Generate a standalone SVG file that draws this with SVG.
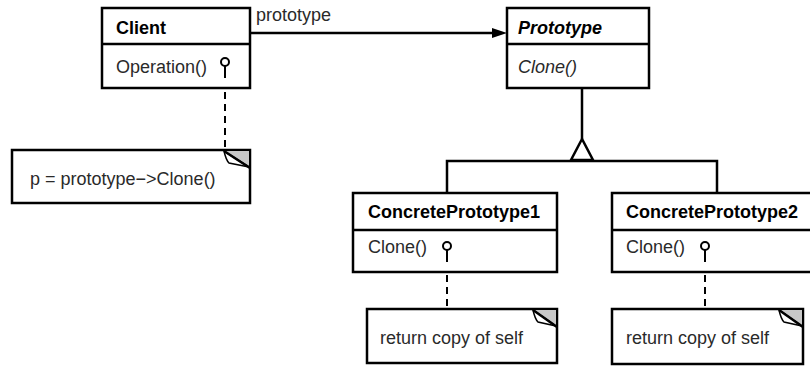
<svg xmlns="http://www.w3.org/2000/svg" width="810" height="369" viewBox="0 0 810 369">
<style>
.box{fill:#fff;stroke:#000;stroke-width:2.5}
.ln{stroke:#000;stroke-width:2.5;fill:none}
.thin{stroke:#000;stroke-width:2;fill:none}
.dash{stroke:#000;stroke-width:2;fill:none;stroke-dasharray:7,5}
.t{font-family:"Liberation Sans",Arial,sans-serif;font-size:18px;fill:#2a2a2a}
.b{font-family:"Liberation Sans",Arial,sans-serif;font-size:18px;font-weight:bold;fill:#000}
.i{font-style:italic}
.fold{fill:#c8c8c8;stroke:none}
.flap{fill:#fff;stroke:#000;stroke-width:1.5}
.pin{fill:#fff;stroke:#000;stroke-width:2}
</style>
<rect width="810" height="369" fill="#fff"/>
<g id="client">
  <rect class="box" x="102" y="8" width="148" height="80"/>
  <line class="ln" x1="102" y1="44" x2="250" y2="44"/>
  <text class="b" x="116" y="34">Client</text>
  <text class="t" x="116" y="73">Operation()</text>
</g>
<g id="prototype">
  <rect class="box" x="507" y="8" width="142" height="80"/>
  <line class="ln" x1="507" y1="44" x2="649" y2="44"/>
  <text class="b i" x="518" y="34">Prototype</text>
  <text class="t i" x="518" y="73">Clone()</text>
</g>
<g id="concrete1">
  <rect class="box" x="353" y="193" width="204" height="79"/>
  <line class="ln" x1="353" y1="230" x2="557" y2="230"/>
  <text class="b" x="368" y="218">ConcretePrototype1</text>
  <text class="t" x="368" y="253">Clone()</text>
</g>
<g id="concrete2">
  <rect class="box" x="612" y="193" width="204" height="79"/>
  <line class="ln" x1="612" y1="230" x2="816" y2="230"/>
  <text class="b" x="626" y="218">ConcretePrototype2</text>
  <text class="t" x="626" y="253">Clone()</text>
</g>
<g id="note-client">
  <rect class="box" x="12" y="150" width="238" height="53"/>
  <polygon class="fold" points="224,151 249,151 249,167"/>
  <path class="flap" d="M224,151 Q226,160 229,163 L249,167 Z"/>
  <line class="ln" x1="224" y1="151" x2="250" y2="168" stroke-width="3"/>
  <text class="t" x="30" y="185">p = prototype−&gt;Clone()</text>
</g>
<g id="note-concrete1">
  <rect class="box" x="367" y="309" width="190" height="54"/>
  <polygon class="fold" points="533,310 556,310 556,326"/>
  <path class="flap" d="M533,310 Q535,319 538,322 L556,326 Z"/>
  <line class="ln" x1="533" y1="310" x2="557" y2="327" stroke-width="3"/>
  <text class="t" x="380" y="344">return copy of self</text>
</g>
<g id="note-concrete2">
  <rect class="box" x="612" y="309" width="191" height="55"/>
  <polygon class="fold" points="779,310 802,310 802,326"/>
  <path class="flap" d="M779,310 Q781,319 784,322 L802,326 Z"/>
  <line class="ln" x1="779" y1="310" x2="803" y2="327" stroke-width="3"/>
  <text class="t" x="626" y="344">return copy of self</text>
</g>
<g id="connectors">
  <line class="ln" x1="250" y1="33" x2="493" y2="33"/>
  <polygon points="492,28 507,33 492,38" fill="#000"/>
  <text class="t" x="256" y="21">prototype</text>
  <line class="ln" x1="582" y1="88" x2="582" y2="139"/>
  <polygon points="582,139 571,160 593,160" fill="#fff" stroke="#000" stroke-width="2.5"/>
  <polyline class="ln" points="447,193 447,161 717,161 717,193"/>
  <line class="thin" x1="225" y1="66" x2="225" y2="78"/>
  <line class="dash" x1="225" y1="92" x2="225" y2="150"/>
  <circle class="pin" cx="225" cy="62" r="4"/>
  <line class="thin" x1="447" y1="250" x2="447" y2="262"/>
  <line class="dash" x1="447" y1="275" x2="447" y2="309"/>
  <circle class="pin" cx="447" cy="246" r="4"/>
  <line class="thin" x1="705" y1="250" x2="705" y2="262"/>
  <line class="dash" x1="705" y1="275" x2="705" y2="309"/>
  <circle class="pin" cx="705" cy="246" r="4"/>
</g>
</svg>
